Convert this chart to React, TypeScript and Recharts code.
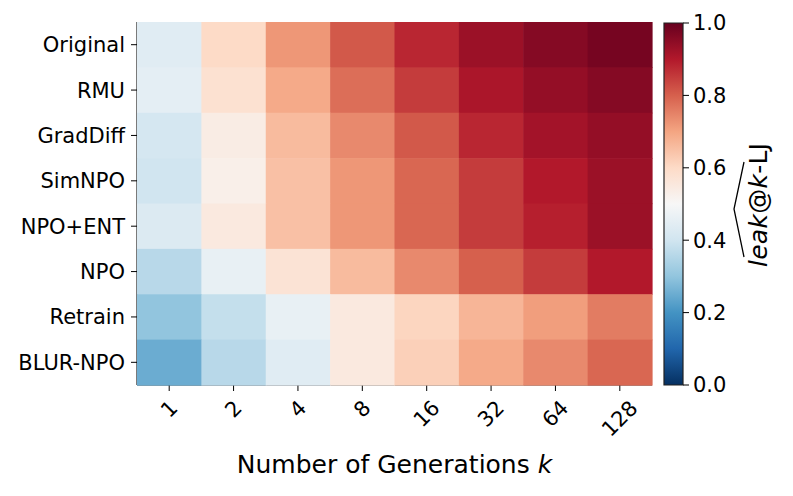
import React from 'react';
import { ScatterChart, Scatter, XAxis, YAxis, BarChart, Bar } from 'recharts';

// rows top to bottom, columns = number of generations k
const methods = ['Original', 'RMU', 'GradDiff', 'SimNPO', 'NPO+ENT', 'NPO', 'Retrain', 'BLUR-NPO'];
const kLabels = ['1', '2', '4', '8', '16', '32', '64', '128'];

const original = [0.44, 0.6, 0.72, 0.81, 0.88, 0.93, 0.96, 0.98];
const rmu = [0.45, 0.58, 0.69, 0.78, 0.85, 0.91, 0.94, 0.96];
const gradDiff = [0.41, 0.54, 0.66, 0.74, 0.81, 0.88, 0.92, 0.94];
const simNpo = [0.4, 0.53, 0.65, 0.72, 0.79, 0.85, 0.9, 0.93];
const npoEnt = [0.43, 0.55, 0.65, 0.72, 0.79, 0.85, 0.89, 0.93];
const npo = [0.36, 0.46, 0.57, 0.66, 0.74, 0.8, 0.85, 0.9];
const retrain = [0.3, 0.38, 0.46, 0.55, 0.61, 0.67, 0.71, 0.76];
const blurNpo = [0.25, 0.36, 0.44, 0.55, 0.62, 0.69, 0.74, 0.79];

const rows = [original, rmu, gradDiff, simNpo, npoEnt, npo, retrain, blurNpo];
const cbTicks = [0, 0.2, 0.4, 0.6, 0.8, 1.0];

const cells = rows.flatMap((r, y) => r.map((v, x) => ({ x, y, v })));

const FONT = 'DejaVu Sans';
const PLOT_L = 137;
const PLOT_R = 652;
const PLOT_T = 22;
const PLOT_B = 385;
const CW = (PLOT_R - PLOT_L) / kLabels.length;
const CH = (PLOT_B - PLOT_T) / methods.length;

// matplotlib RdBu_r
const RDBU = ['#053061', '#2166ac', '#4393c3', '#92c5de', '#d1e5f0', '#f7f7f7', '#fddbc7', '#f4a582', '#d6604d', '#b2182b', '#67001f'];

const hex = (h: string) => [1, 3, 5].map((i) => parseInt(h.slice(i, i + 2), 16));
const rdbu = (v: number) => {
  const t = Math.max(0, Math.min(1, v)) * 10;
  const i = Math.min(9, Math.floor(t));
  const f = t - i;
  const a = hex(RDBU[i]);
  const b = hex(RDBU[i + 1]);
  const c = a.map((ai, j) => Math.round(ai + (b[j] - ai) * f));
  return `rgb(${c[0]},${c[1]},${c[2]})`;
};

const HeatCell = (props: any) => {
  const { cx, cy, payload } = props;
  return <rect x={cx - CW / 2} y={cy - CH / 2} width={CW + 0.6} height={CH + 0.6} fill={rdbu(payload.v)} />;
};

const KTick = (props: any) => {
  const { x, y, payload } = props;
  const label = kLabels[payload.value];
  const w = label.length * 13.4;
  const c = y + (w + 21) * 0.354;
  return (
    <text x={x} y={c} textAnchor="middle" dominantBaseline="central" fontSize={21} fontFamily={FONT} fill="#000" transform={`rotate(-45, ${x}, ${c})`}>
      {label}
    </text>
  );
};

const XTitle = (props: any) => {
  const vb = props.viewBox;
  return (
    <text x={vb.x + vb.width / 2} y={473} textAnchor="middle" fontSize={25} fontFamily={FONT} fill="#000">
      Number of Generations <tspan fontStyle="italic">k</tspan>
    </text>
  );
};

const CbTitle = () => (
  <g transform="translate(117, 205) rotate(-90)">
    <text x={-62} y={0} textLength={124} lengthAdjust="spacing" fontSize={25} fontFamily={FONT} fill="#000">
      <tspan fontStyle="italic">leak</tspan>@<tspan fontStyle="italic">k</tspan>-LJ
    </text>
    <path d="M -52 -23 L -4 -33 L 43 -23" fill="none" stroke="#000" strokeWidth={1.3} />
  </g>
);

export default function App() {
  return (
    <div style={{ position: 'absolute', left: 0, top: 0, width: 793, height: 496, background: '#fff' }}>
      <div style={{ position: 'absolute', left: 0, top: 0 }}>
        <ScatterChart width={793} height={496} margin={{ top: PLOT_T, right: 793 - PLOT_R, bottom: 496 - PLOT_B - 60, left: 0 }}>
          <XAxis
            type="number"
            dataKey="x"
            domain={[-0.5, 7.5]}
            ticks={[0, 1, 2, 3, 4, 5, 6, 7]}
            interval={0}
            height={60}
            tick={<KTick />}
            tickSize={6}
            tickMargin={6}
            tickLine={{ stroke: '#000' }}
            axisLine={{ stroke: '#222', strokeWidth: 1.2 }}
            label={<XTitle />}
          />
          <XAxis xAxisId="top" orientation="top" type="number" domain={[-0.5, 7.5]} height={0} tick={false} tickLine={false} axisLine={{ stroke: '#222', strokeWidth: 1.2 }} />
          <YAxis
            type="number"
            dataKey="y"
            domain={[-0.5, 7.5]}
            reversed
            ticks={[0, 1, 2, 3, 4, 5, 6, 7]}
            interval={0}
            width={PLOT_L}
            tickFormatter={(v: number) => methods[v]}
            tick={{ fontSize: 21, fontFamily: FONT, fill: '#000' }}
            tickSize={6}
            tickMargin={6}
            tickLine={{ stroke: '#000' }}
            axisLine={{ stroke: '#222', strokeWidth: 1.2 }}
          />
          <YAxis yAxisId="right" orientation="right" type="number" domain={[-0.5, 7.5]} width={0} tick={false} tickLine={false} axisLine={{ stroke: '#222', strokeWidth: 1.2 }} />
          <Scatter data={cells} shape={<HeatCell />} isAnimationActive={false} />
        </ScatterChart>
      </div>
      <div style={{ position: 'absolute', left: 650, top: 0 }}>
        <BarChart width={143} height={496} data={[{ c: 'cb', v: 1 }]} margin={{ top: 23, right: 0, bottom: 496 - PLOT_B, left: 14 }} barCategoryGap={0} barGap={0}>
          <defs>
            <linearGradient id="rdbu" x1="0" y1="1" x2="0" y2="0">
              {RDBU.map((c, i) => (
                <stop key={i} offset={i / 10} stopColor={c} />
              ))}
            </linearGradient>
          </defs>
          <XAxis dataKey="c" hide />
          <YAxis
            orientation="right"
            type="number"
            domain={[0, 1]}
            ticks={cbTicks}
            interval={0}
            width={110}
            tickFormatter={(v: number) => v.toFixed(1)}
            tick={{ fontSize: 21, fontFamily: FONT, fill: '#000' }}
            tickSize={6}
            tickMargin={4}
            tickLine={{ stroke: '#000' }}
            axisLine={false}
            label={<CbTitle />}
          />
          <Bar dataKey="v" fill="url(#rdbu)" stroke="#222" strokeWidth={1.2} isAnimationActive={false} />
        </BarChart>
      </div>
    </div>
  );
}
